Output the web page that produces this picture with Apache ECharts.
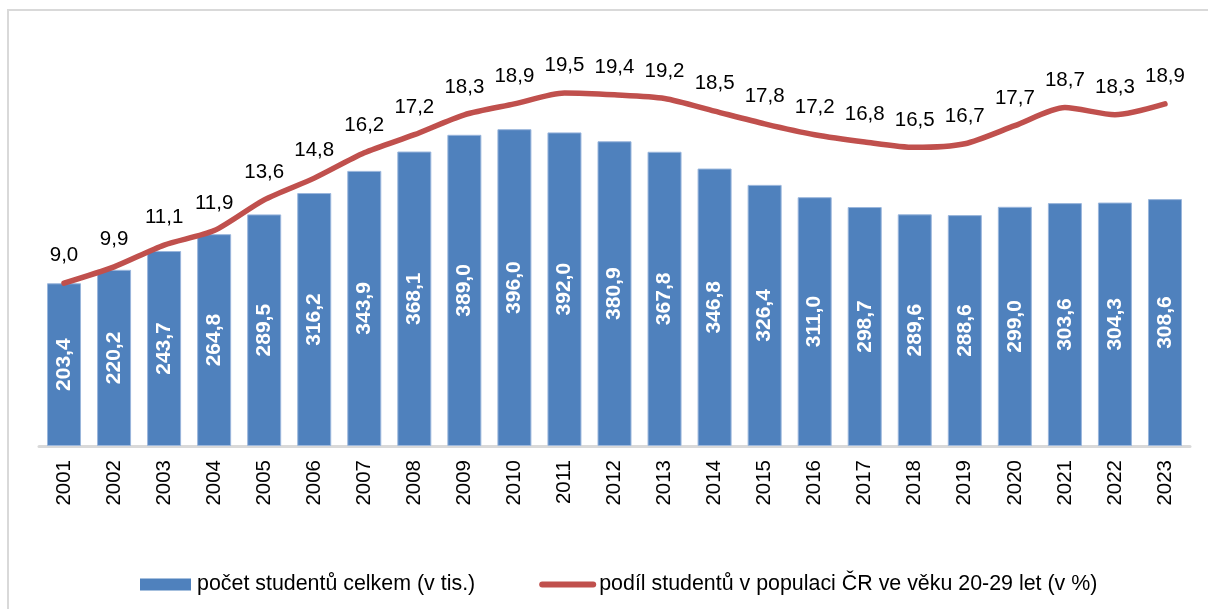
<!DOCTYPE html>
<html>
<head>
<meta charset="utf-8">
<script src="https://cdn.jsdelivr.net/npm/echarts@6/dist/echarts.min.js"></script>
<style>
  html, body { margin: 0; padding: 0; background: #fff; }
  #chart { width: 1208px; height: 609px; }
</style>
</head>
<body>
<div id="chart"></div>
<script>
var years = ['2001', '2002', '2003', '2004', '2005', '2006', '2007', '2008', '2009', '2010', '2011', '2012',
    '2013', '2014', '2015', '2016', '2017', '2018', '2019', '2020', '2021', '2022', '2023'];
var studenti = [203.4, 220.2, 243.7, 264.8, 289.5, 316.2, 343.9, 368.1, 389.0, 396.0, 392.0, 380.9,
    367.8, 346.8, 326.4, 311.0, 298.7, 289.6, 288.6, 299.0, 303.6, 304.3, 308.6];
var podil = [9.0, 9.9, 11.1, 11.9, 13.6, 14.8, 16.2, 17.2, 18.3, 18.9, 19.5, 19.4,
    19.2, 18.5, 17.8, 17.2, 16.8, 16.5, 16.7, 17.7, 18.7, 18.3, 18.9];

var barName = 'počet studentů celkem (v tis.)';
var lineName = 'podíl studentů v populaci ČR ve věku 20-29 let (v %)';
var font = '"Liberation Sans", Arial, sans-serif';

function fmt(p) {
    return p.value.toFixed(1).replace('.', ',');
}

var chart = echarts.init(document.getElementById('chart'));
chart.setOption({
    animation: false,
    textStyle: { fontFamily: font },
    graphic: [{
        type: 'rect',
        shape: { x: 8, y: 10, width: 1400, height: 800 },
        style: { fill: 'none', stroke: '#d9d9d9', lineWidth: 2 },
        silent: true
    }],
    grid: { left: 39, right: 18, top: 46, bottom: 163 },
    legend: {
        left: 135,
        top: 569,
        itemWidth: 51,
        itemHeight: 12,
        itemGap: 64,
        textStyle: { fontSize: 21.4, color: '#000', fontFamily: font, padding: [0, 0, 0, 1] },
        data: [
            { name: barName, icon: 'rect', itemStyle: { borderWidth: 0 } },
            { name: lineName, itemStyle: { opacity: 0 }, lineStyle: { width: 6, cap: 'round' } }
        ]
    },
    xAxis: {
        type: 'category',
        data: years,
        axisTick: { show: false },
        axisLine: { lineStyle: { color: '#d9d9d9', width: 3 } },
        axisLabel: { rotate: 90, fontSize: 20.5, color: '#000', margin: 14, fontFamily: font }
    },
    yAxis: [
        { type: 'value', min: 0, max: 500, show: false, splitLine: { show: false } },
        { type: 'value', min: 0, max: 22.1, show: false, splitLine: { show: false } }
    ],
    series: [{
        name: barName,
        type: 'bar',
        data: studenti,
        barWidth: 34,
        itemStyle: { color: '#4f81bd', borderColor: '#9ab6dc', borderWidth: 1 },
        label: {
            show: true,
            position: 'inside',
            rotate: 90,
            color: '#fff',
            fontWeight: 'bold',
            fontSize: 21,
            fontFamily: font,
            formatter: fmt
        }
    }, {
        name: lineName,
        type: 'line',
        yAxisIndex: 1,
        data: podil,
        smooth: 0.25,
        symbol: 'circle',
        symbolSize: 0,
        showSymbol: true,
        lineStyle: { color: '#c0504d', width: 5.5, cap: 'round' },
        itemStyle: { color: '#c0504d' },
        label: {
            show: true,
            position: 'top',
            distance: 17,
            color: '#000',
            fontSize: 20.5,
            fontFamily: font,
            formatter: fmt
        }
    }]
});
</script>
</body>
</html>
